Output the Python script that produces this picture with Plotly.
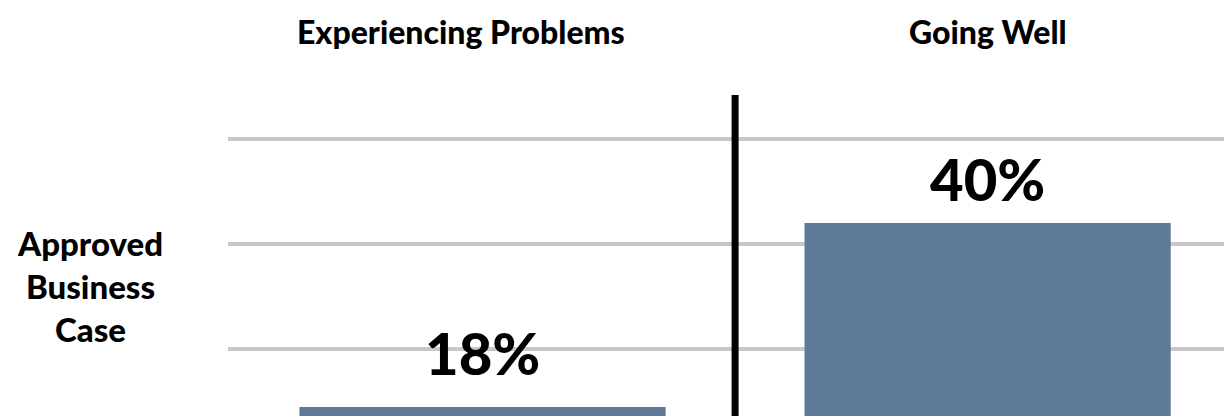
import plotly.graph_objects as go

# Share of projects with an approved business case, by project status
categories = ["Experiencing Problems", "Going Well"]
values = [18, 40]
value_labels = ["18%", "40%"]
row_label = "Approved<br>Business<br>Case"

# Label offsets (px above bar top) and header nudges
label_shift = [55, 45]
header_shift = [-22, 0]

BAR_COLOR = "#5e7997"
FONT = "Lato"
WEIGHT = 900

fig = go.Figure()
fig.add_trace(go.Bar(
    x=[0, 1],
    y=values,
    marker=dict(color=BAR_COLOR, line=dict(width=0)),
    width=0.725,
    hoverinfo="skip",
))

# Value labels above each bar
for i, (v, t) in enumerate(zip(values, value_labels)):
    fig.add_annotation(
        x=i, y=v, xref="x", yref="y", text=t, showarrow=False,
        yanchor="middle", yshift=label_shift[i],
        font=dict(family=FONT, size=58, color="black", weight=WEIGHT),
    )

# Column headers along the top
for i, c in enumerate(categories):
    fig.add_annotation(
        x=i, y=1, xref="x", yref="paper", text=c, showarrow=False,
        yanchor="middle", yshift=64, xshift=header_shift[i],
        font=dict(family=FONT, size=32, color="black", weight=WEIGHT),
    )

# Row label on the left
fig.add_annotation(
    x=0, y=32.5, xref="paper", yref="y", text=row_label, showarrow=False,
    xanchor="center", yanchor="middle", xshift=-138, align="center",
    font=dict(family=FONT, size=33, color="black", weight=WEIGHT),
)

# Divider between the two columns
fig.add_shape(
    type="line", xref="x", yref="paper", x0=0.5, x1=0.5, y0=0, y1=1,
    line=dict(color="black", width=7),
)

fig.update_layout(
    width=1224, height=416,
    margin=dict(l=228, r=0, t=95, b=0),
    paper_bgcolor="white", plot_bgcolor="white",
    showlegend=False,
    xaxis=dict(range=[-0.504, 1.468], showticklabels=False, showgrid=False,
               zeroline=False, showline=False, fixedrange=True),
    yaxis=dict(range=[16.93, 55.31], tick0=0, dtick=12.5, showgrid=True,
               gridcolor="#c8c8c8", gridwidth=4, showticklabels=False,
               zeroline=False, showline=False, fixedrange=True),
)

fig.write_html("out.html", config={"displayModeBar": False})
